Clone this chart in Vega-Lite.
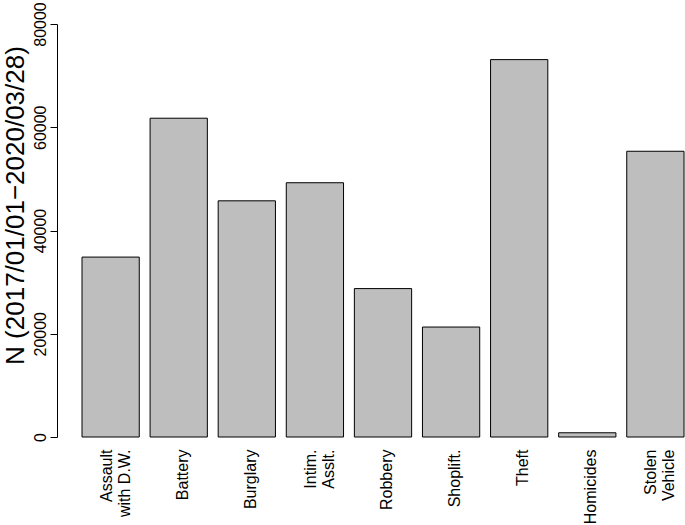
{
  "$schema": "https://vega.github.io/schema/vega-lite/v6.json",
  "width": 602,
  "height": 413,
  "autosize": "none",
  "padding": {"left": 82, "top": 24, "right": 1, "bottom": 88},
  "background": "#ffffff",
  "config": {"view": {"stroke": null}, "font": "Liberation Sans"},
  "data": {
    "values": [
      {"crime": "Assault|with D.W.", "n": 34850},
      {"crime": "Battery", "n": 61750},
      {"crime": "Burglary", "n": 45750},
      {"crime": "Intim.|Asslt.", "n": 49250},
      {"crime": "Robbery", "n": 28750},
      {"crime": "Shoplift.", "n": 21300},
      {"crime": "Theft", "n": 73100},
      {"crime": "Homicides", "n": 820},
      {"crime": "Stolen|Vehicle", "n": 55350}
    ]
  },
  "mark": {"type": "bar", "fill": "#bebebe", "stroke": "#000000", "strokeWidth": 1},
  "encoding": {
    "x": {
      "field": "crime",
      "type": "nominal",
      "sort": null,
      "scale": {"paddingInner": 0.159, "paddingOuter": 0},
      "axis": {
        "title": null,
        "labelExpr": "split(datum.value, '|')",
        "labelAngle": -90,
        "labelAlign": "right",
        "labelBaseline": "middle",
        "labelFontSize": 16,
        "labelLineHeight": 18,
        "ticks": false,
        "domain": false,
        "labelPadding": 12,
        "labelOffset": {"condition": {"test": "indexof(datum.value, '|') >= 0", "value": -4}, "value": 4},
        "labelColor": "#000000",
        "labelLimit": 0
      }
    },
    "y": {
      "field": "n",
      "type": "quantitative",
      "scale": {"domain": [0, 80000], "nice": false},
      "axis": {
        "values": [0, 20000, 40000, 60000, 80000],
        "format": "d",
        "grid": false,
        "offset": 25,
        "tickSize": 7,
        "labelAngle": -90,
        "labelAlign": "center",
        "labelBaseline": "alphabetic",
        "labelPadding": 5,
        "labelFontSize": 16,
        "labelFlush": false,
        "labelOverlap": false,
        "domainColor": "#000000",
        "tickColor": "#000000",
        "labelColor": "#000000",
        "title": "N (2017/01/01−2020/03/28)",
        "titleFontSize": 26,
        "titleFontWeight": "normal",
        "titleX": -34,
        "titleY": 181,
        "titleAngle": -90,
        "titleBaseline": "alphabetic",
        "titleAlign": "center",
        "titleColor": "#000000"
      }
    }
  }
}
